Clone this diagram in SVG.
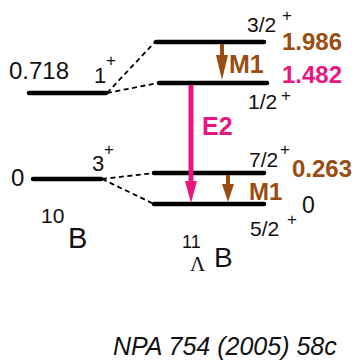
<svg xmlns="http://www.w3.org/2000/svg" width="356" height="360" viewBox="0 0 356 360">
<style>
text{font-family:"Liberation Sans",Arial,sans-serif;fill:#111}
.lvl{stroke:#000;stroke-width:4.5;stroke-linecap:round}
.dash{stroke:#000;stroke-width:1.8;stroke-dasharray:5,3.5;fill:none}
.num{font-size:24px}
.jp{font-size:21px}
.sup{font-size:17px}
.br{fill:#9a4d12;font-weight:bold}
.pk{fill:#e8167e;font-weight:bold}
</style>
<rect width="356" height="360" fill="#fff"/>
<g id="B10">
  <g id="b10-1plus">
    <line class="lvl" x1="29" y1="93" x2="106" y2="93"/>
    <text class="num" x="9" y="79">0.718</text>
    <text class="jp" x="94" y="83" style="font-size:22px">1</text>
    <text class="sup" x="106" y="66">+</text>
  </g>
  <g id="b10-3plus">
    <line class="lvl" x1="33" y1="179" x2="101" y2="179"/>
    <text class="num" x="11" y="186">0</text>
    <text class="jp" x="92" y="171" style="font-size:22px">3</text>
    <text class="sup" x="104" y="155">+</text>
  </g>
  <g id="b10-label">
    <text x="41" y="223" style="font-size:21px">10</text>
    <text x="68" y="248" style="font-size:29px">B</text>
  </g>
</g>
<g id="B11L">
  <g id="l-3-2">
    <line class="lvl" x1="156" y1="42" x2="264" y2="42"/>
    <text class="jp" x="247" y="32">3/2</text>
    <text class="sup" x="282" y="21">+</text>
    <text class="num br" x="282" y="50">1.986</text>
  </g>
  <g id="l-1-2">
    <line class="lvl" x1="159" y1="83" x2="267" y2="83"/>
    <text class="jp" x="248" y="109">1/2</text>
    <text class="sup" x="281" y="101">+</text>
    <text class="num pk" x="282" y="83">1.482</text>
  </g>
  <g id="l-7-2">
    <line class="lvl" x1="154" y1="173" x2="264" y2="173"/>
    <text class="jp" x="249" y="167">7/2</text>
    <text class="sup" x="280" y="155">+</text>
    <text class="num br" x="292" y="177">0.263</text>
  </g>
  <g id="l-5-2">
    <line class="lvl" x1="154" y1="204" x2="264" y2="204"/>
    <text class="jp" x="250" y="236">5/2</text>
    <text class="sup" x="287" y="225">+</text>
    <text x="302" y="213" style="font-size:23px">0</text>
  </g>
  <g id="b11-label">
    <text x="182" y="248" style="font-size:18px">11</text>
    <text x="190" y="271" style="font-size:21px;font-family:'Liberation Serif',serif">Λ</text>
    <text x="214" y="267" style="font-size:28px">B</text>
  </g>
</g>
<g id="connectors">
  <path class="dash" d="M107,93 L155,42"/>
  <path class="dash" d="M107,93 L158,83"/>
  <path class="dash" d="M102,179 L154,173"/>
  <path class="dash" d="M102,179 L154,204"/>
  <g id="E2">
    <line x1="191" y1="85" x2="191" y2="183" stroke="#e8167e" stroke-width="5"/>
    <polygon points="185,181 197,181 191,203" fill="#e8167e"/>
    <text class="pk" x="202" y="135" style="font-size:25px">E2</text>
  </g>
  <g id="M1a">
    <line x1="222" y1="44" x2="222" y2="57" stroke="#9a4d12" stroke-width="4"/>
    <polygon points="216,55 228,55 222,80" fill="#9a4d12"/>
    <text class="br" x="229" y="73" style="font-size:25px">M1</text>
  </g>
  <g id="M1b">
    <line x1="228" y1="175" x2="228" y2="186" stroke="#9a4d12" stroke-width="4"/>
    <polygon points="222,184 234,184 228,202" fill="#9a4d12"/>
    <text class="br" x="249" y="200" style="font-size:24px">M1</text>
  </g>
</g>
<text x="113" y="355" style="font-size:25px;font-style:italic">NPA 754 (2005) 58c</text>
</svg>
